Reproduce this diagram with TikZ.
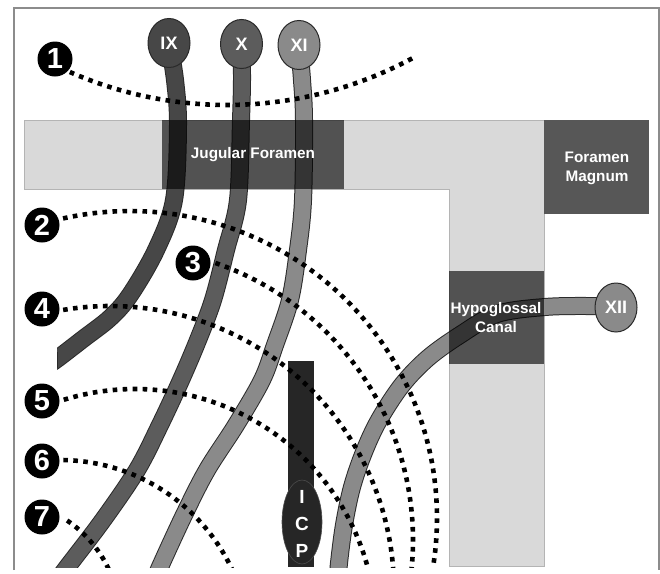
\documentclass[tikz,border=0pt]{standalone}
\usepackage{fontspec}
\newfontfamily\lsans{Liberation Sans}
\usetikzlibrary{shapes.geometric}
\definecolor{lgray}{HTML}{D9D9D9}
\definecolor{lgrayline}{HTML}{B4B4B4}
\definecolor{darkbox}{HTML}{575757}
\definecolor{bandline}{HTML}{2A2A2A}
\definecolor{cnine}{HTML}{474747}
\definecolor{cten}{HTML}{5C5C5C}
\definecolor{celeven}{HTML}{8A8A8A}
\definecolor{ctwelve}{HTML}{8A8A8A}
\definecolor{icpc}{HTML}{262626}
\definecolor{framec}{HTML}{8C8C8C}
\newcommand{\nerveband}[2]{%
  \draw[bandout] plot[smooth, tension=0.55] coordinates {#2};
  \draw[bandin, draw=#1] plot[smooth, tension=0.55] coordinates {#2};}
\begin{document}
\begin{tikzpicture}[x=1pt,y=-1pt,
  bandout/.style={line width=18pt, draw=bandline},
  bandin/.style={line width=16pt},
  dotline/.style={line width=4.6pt, draw=black, dash pattern=on 4.6pt off 5.4pt},
  nerve/.style={ellipse, minimum width=42pt, minimum height=49pt, inner sep=0pt,
    draw=bandline, line width=1pt, text=white, font=\lsans\bfseries\fontsize{18}{18}\selectfont},
  numlab/.style={circle, fill=black, minimum size=35pt, inner sep=0pt, text=white,
    font=\lsans\bfseries\fontsize{29}{29}\selectfont},
  boxtext/.style={text=white, align=center, font=\lsans\bfseries\fontsize{15.3}{19}\selectfont},
  overbox/.style={fill=black, fill opacity=0.62}]
\useasboundingbox (0,0) rectangle (660,573);
\fill[white] (0,0) rectangle (660,573);
\draw[framec, line width=1.5pt] (14,570) -- (14,8) -- (659,8) -- (659,570);
\begin{scope}
\clip (14,8) rectangle (659,567);
% light grey L-shaped bone
\draw[fill=lgray, draw=lgrayline, line width=1pt]
  (24,120) -- (544,120) -- (544,566) -- (449,566) -- (449,189) -- (24,189) -- cycle;
\fill[darkbox] (544,120) rectangle (649,214);
% nerve bands
\begin{scope}
\clip (57,0) rectangle (660,573);
\nerveband{cnine}{(169,43) (175,80) (178,125) (174,200) (156,250) (130,295) (110,318) (83,339) (57,359) (45,367)}
\end{scope}
\draw[bandline, line width=0.8pt] (57,352) -- (57,368);
\nerveband{cten}{(241.5,44) (242,80) (241,120) (238,200) (226,250) (213,300) (198,340) (181,380) (160,425) (137,470) (103,520) (65,570) (58,580)}
\nerveband{celeven}{(299,45) (302,80) (304,120) (303,200) (298,250) (290,300) (275,345) (262,380) (236,425) (207,470) (184,515) (160,567) (155,580)}
\nerveband{ctwelve}{(616,307) (590,306) (545,307) (497,314) (460,335) (428,358) (402,385) (379,420) (364,452) (352,487) (344,525) (339,563) (338,580)}
% translucent foramina
\fill[overbox] (162,120) rectangle (344,189);
\fill[overbox] (449,271) rectangle (544,364);
\node[boxtext] (jf) at (253,155) {Jugular Foramen};
\node[boxtext] (fm) at (597,168) {Foramen\\Magnum};
\node[boxtext] (hc) at (496,318) {Hypoglossal\\Canal};
% nerve heads
\node[nerve, fill=cnine] (n9) at (169,43) {IX};
\node[nerve, fill=cten] (n10) at (241.5,44) {X};
\node[nerve, fill=celeven] (n11) at (299,45) {XI};
\node[nerve, fill=ctwelve] (n12) at (616,307.5) {XII};
% ICP
\fill[icpc] (288,361) rectangle (314,567);
\node[ellipse, fill=icpc, draw=black!70, line width=0.6pt, minimum width=40pt, minimum height=84pt, inner sep=0pt] (icp) at (302,522) {};
\node[text=white, align=center, font=\lsans\bfseries\fontsize{19}{27}\selectfont] (icptext) at (302,524) {I\\C\\P};
% dotted arcs
\draw[dotline] plot[domain=113.7:61.6, samples=80, variable=\t] ({227+391*cos(\t)},{-286+391*sin(\t)});
\draw[dotline] plot[domain=-102.6:9, samples=80, variable=\t] ({130+307*cos(\t)},{518+307*sin(\t)});
\draw[dotline] plot[domain=-71:6, samples=80, variable=\t] ({120+293*cos(\t)},{540+293*sin(\t)});
\draw[dotline] plot[domain=-99.5:-3, samples=80, variable=\t] ({110+284*cos(\t)},{590+284*sin(\t)});
\draw[dotline] plot[domain=-107.2:-13, samples=80, variable=\t] ({135+241*cos(\t)},{630+241*sin(\t)});
\draw[dotline] plot[domain=-89:-24, samples=60, variable=\t] ({60+190*cos(\t)},{650+190*sin(\t)});
\draw[dotline] plot[domain=-56:-24, samples=40, variable=\t] ({0+120*cos(\t)},{620+120*sin(\t)});
% number labels
\node[numlab] (l1) at (55,59) {1};
\node[numlab] (l2) at (42,225) {2};
\node[numlab] (l3) at (193,263) {3};
\node[numlab] (l4) at (42,309) {4};
\node[numlab] (l5) at (42,401) {5};
\node[numlab] (l6) at (42,461) {6};
\node[numlab] (l7) at (42,517) {7};
\end{scope}
\end{tikzpicture}
\end{document}
